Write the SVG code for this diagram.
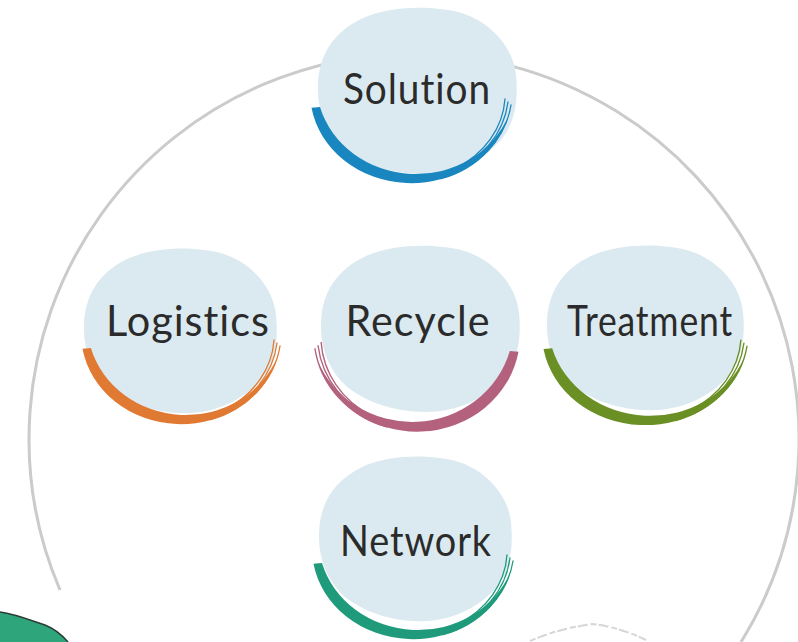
<svg xmlns="http://www.w3.org/2000/svg" width="798" height="642" viewBox="0 0 798 642">
  <defs>
    <style>
      .blob { fill: #dbeaf0; }
      .label { font-family: "Lato", "Noto Sans", "DejaVu Sans", sans-serif; font-size: 42px; fill: #2b2b2b; text-anchor: middle; letter-spacing: 1px; }
      .ring { fill: none; stroke: #cbcbcb; stroke-width: 3; }
      .thin { fill: none; stroke-width: 1.3; stroke-linecap: round; }
    </style>
    <path id="blobShape" d="M -55,-72 C -25,-85 15,-84 40,-78 C 70,-70 95,-45 98,-15 C 101,15 95,40 78,55 C 60,72 35,84 5,84 C -30,84 -58,72 -75,58 C -92,42 -101,20 -100,-5 C -99,-35 -85,-58 -55,-72 Z"/>
    <!-- brush arc: ellipse rx 101, ry 91 around (0,0) -->
    <g id="brush">
      <path stroke="none" d="M -99.5,15.8 A 101 91 0 0 0 97.6,23.6 A 99.6 92 0 0 1 -91,15 Z"/>
      <path class="thin" d="M 30,86.7 A 101 91 0 0 0 100,13"/>
      <path class="thin" d="M 38,81 A 98 88 0 0 0 97,10"/>
      <path class="thin" d="M 45,76 A 95 85 0 0 0 94,7"/>
    </g>
  </defs>

  <rect width="798" height="642" fill="#ffffff"/>

  <!-- connectors: the big ring -->
  <g id="connectors">
    <path class="ring" d="M 60,590 A 385 385 0 1 1 741,642"/>
  </g>

  <!-- decorative bottom elements -->
  <g id="decor">
    <path d="M 0,612 C 15,614 30,620 45,625 C 55,629 62,635 68,642 L 0,642 Z" fill="#2fa57c"/>
    <path d="M 0,612 C 15,614 30,620 45,625 C 55,629 62,635 68,642" fill="none" stroke="#2b3a33" stroke-width="1.5"/>
    <path d="M 530,641 C 550,632 572,627 592,624 C 612,626 632,633 646,640" fill="none" stroke="#c4c4c4" stroke-width="2" stroke-dasharray="6 2 10 3" opacity="0.7"/>
  </g>

  <!-- Solution -->
  <g id="node-solution">
    <g transform="translate(418,90)"><use href="#blobShape" class="blob"/></g>
    <use href="#brush" transform="translate(411,92)" fill="#1a86bf" stroke="#1a86bf"/>
    <text class="label" x="417" y="104" textLength="148" lengthAdjust="spacingAndGlyphs">Solution</text>
  </g>

  <!-- Logistics -->
  <g id="node-logistics">
    <g transform="translate(181,330) scale(0.97,0.99)"><use href="#blobShape" class="blob"/></g>
    <use href="#brush" transform="translate(181,333) scale(0.99,1)" fill="#e07a33" stroke="#e07a33"/>
    <text class="label" x="188" y="336" textLength="164" lengthAdjust="spacingAndGlyphs">Logistics</text>
  </g>

  <!-- Recycle -->
  <g id="node-recycle">
    <g transform="translate(421,328)"><use href="#blobShape" class="blob"/></g>
    <use href="#brush" transform="translate(417,335) scale(-1.02,1.06)" fill="#b3617c" stroke="#b3617c"/>
    <text class="label" x="418" y="336" textLength="145" lengthAdjust="spacingAndGlyphs">Recycle</text>
  </g>

  <!-- Treatment -->
  <g id="node-treatment">
    <g transform="translate(646,327) scale(0.99,0.99)"><use href="#blobShape" class="blob"/></g>
    <use href="#brush" transform="translate(645,333) scale(1.02,1.01)" fill="#6a8f24" stroke="#6a8f24"/>
    <text class="label" x="650" y="336" textLength="166" lengthAdjust="spacingAndGlyphs">Treatment</text>
  </g>

  <!-- Network -->
  <g id="node-network">
    <g transform="translate(416,538) scale(0.97,0.99)"><use href="#blobShape" class="blob"/></g>
    <use href="#brush" transform="translate(413,548)" fill="#1f9b7c" stroke="#1f9b7c"/>
    <text class="label" x="416" y="556" textLength="152" lengthAdjust="spacingAndGlyphs">Network</text>
  </g>
</svg>
